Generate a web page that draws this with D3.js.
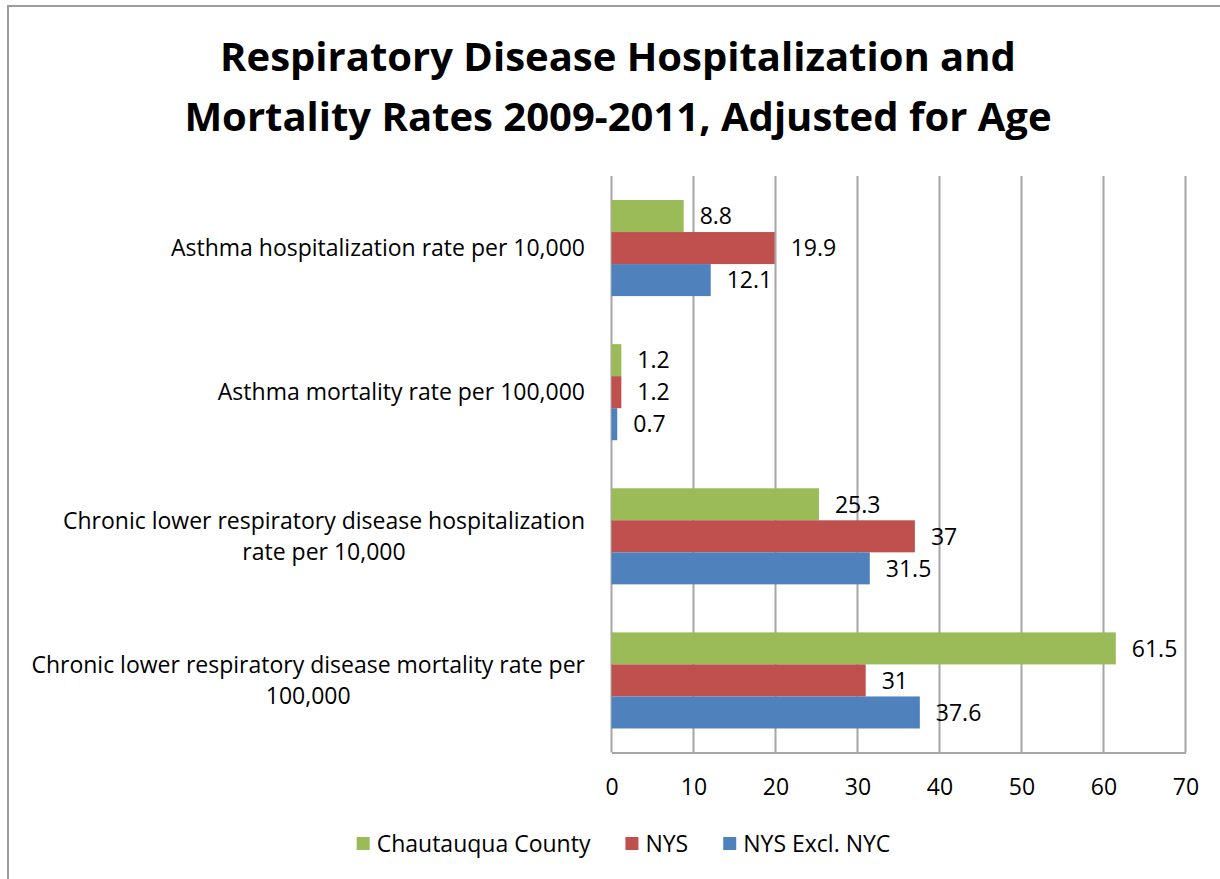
<!DOCTYPE html>
<html>
<head>
<meta charset="utf-8">
<script src="https://cdn.jsdelivr.net/npm/d3@7"></script>
<style>
  html, body { margin: 0; padding: 0; background: #ffffff; }
  svg { display: block; }
  text { font-family: "Open Sans", Lato, sans-serif; fill: #000; }
</style>
</head>
<body>
<svg id="chart" width="1220" height="879"></svg>
<script>
// Chart content
const titleLines = [
  "Respiratory Disease Hospitalization and",
  "Mortality Rates 2009-2011, Adjusted for Age"
];
const categories = [
  "Asthma hospitalization rate per 10,000",
  "Asthma mortality rate per 100,000",
  "Chronic lower respiratory disease hospitalization\nrate per 10,000",
  "Chronic lower respiratory disease mortality rate per\n100,000"
];
const seriesNames = ["Chautauqua County", "NYS", "NYS Excl. NYC"];
const chautauqua = [8.8, 1.2, 25.3, 61.5];
const nys = [19.9, 1.2, 37, 31];
const nysExclNyc = [12.1, 0.7, 31.5, 37.6];
const xTicks = [0, 10, 20, 30, 40, 50, 60, 70];
const colors = ["#9bbb59", "#c0504d", "#4f81bd"];

const seriesValues = [chautauqua, nys, nysExclNyc];
const FONT = "'Open Sans', Lato, sans-serif";
const LABEL_SIZE = 23;

const svg = d3.select("#chart");

// Outer chart frame (top and left edges)
svg.append("path")
  .attr("d", "M8,879 V6 H1220")
  .attr("fill", "none")
  .attr("stroke", "#9c9c9c")
  .attr("stroke-width", 2);

// Title
svg.append("g").selectAll("text")
  .data(titleLines)
  .join("text")
  .attr("x", 618)
  .attr("y", (d, i) => 71 + i * 60)
  .attr("text-anchor", "middle")
  .attr("font-size", 40)
  .attr("font-weight", "bold")
  .text(d => d);

// Plot geometry
const plot = { left: 611.5, right: 1185.5, top: 176, bottom: 752.5 };

const x = d3.scaleLinear().domain([0, 70]).range([plot.left, plot.right]);
const y = d3.scaleBand()
  .domain(categories)
  .range([plot.top, plot.bottom])
  .paddingInner(1 / 3)
  .paddingOuter(1 / 6);
const ySeries = d3.scaleBand()
  .domain(seriesNames)
  .range([0, y.bandwidth()]);

// Vertical gridlines
svg.append("g").selectAll("line")
  .data(xTicks)
  .join("line")
  .attr("x1", d => x(d)).attr("x2", d => x(d))
  .attr("y1", plot.top).attr("y2", plot.bottom)
  .attr("stroke", "#a6a6a6")
  .attr("stroke-width", 2);

// Bottom value axis
const xAxis = svg.append("g")
  .attr("transform", `translate(0,${plot.bottom})`)
  .call(d3.axisBottom(x).tickValues(xTicks).tickSize(0).tickPadding(26));
xAxis.select(".domain").attr("stroke", "#a6a6a6").attr("stroke-width", 2);
xAxis.selectAll("text")
  .attr("font-size", LABEL_SIZE)
  .attr("font-family", FONT)
  .attr("fill", "#000");

// Bars
const rows = [];
categories.forEach((c, ci) => {
  seriesNames.forEach((s, si) => {
    rows.push({ category: c, series: s, si, value: seriesValues[si][ci] });
  });
});

const barG = svg.append("g");
barG.selectAll("rect")
  .data(rows)
  .join("rect")
  .attr("x", x(0))
  .attr("y", d => y(d.category) + ySeries(d.series))
  .attr("width", d => x(d.value) - x(0))
  .attr("height", ySeries.bandwidth())
  .attr("fill", d => colors[d.si]);

// Value labels
barG.selectAll("text")
  .data(rows)
  .join("text")
  .attr("x", d => x(d.value) + 16)
  .attr("y", d => y(d.category) + ySeries(d.series) + ySeries.bandwidth() / 2)
  .attr("dy", "0.36em")
  .attr("font-size", LABEL_SIZE)
  .text(d => d.value);

// Category labels: block right-aligned to the axis, lines centred within it
const catG = svg.append("g");
categories.forEach(c => {
  const lines = c.split("\n");
  const g = catG.append("g");
  const texts = g.selectAll("text")
    .data(lines)
    .join("text")
    .attr("font-size", LABEL_SIZE)
    .attr("text-anchor", "middle")
    .text(d => d);
  let maxW = 0;
  texts.each(function () { maxW = Math.max(maxW, this.getComputedTextLength()); });
  const cx = 585 - maxW / 2;
  const cy = y(c) + y.bandwidth() / 2;
  const lh = 31;
  texts
    .attr("x", cx)
    .attr("y", (d, i) => cy + (i - (lines.length - 1) / 2) * lh)
    .attr("dy", "0.36em");
});

// Legend
const legend = svg.append("g");
const items = legend.selectAll("g")
  .data(seriesNames)
  .join("g");
items.append("rect")
  .attr("width", 13).attr("height", 13)
  .attr("y", 837)
  .attr("fill", (d, i) => colors[i]);
items.append("text")
  .attr("x", 20)
  .attr("y", 843.5)
  .attr("dy", "0.36em")
  .attr("font-size", LABEL_SIZE)
  .text(d => d);
let offsets = [];
let cursor = 0;
items.each(function () {
  const w = d3.select(this).select("text").node().getComputedTextLength();
  offsets.push(cursor);
  cursor += 20 + w + 35;
});
const legendWidth = cursor - 35;
const legendStart = 623.5 - legendWidth / 2;
items.attr("transform", (d, i) => `translate(${legendStart + offsets[i]},0)`);
</script>
</body>
</html>
